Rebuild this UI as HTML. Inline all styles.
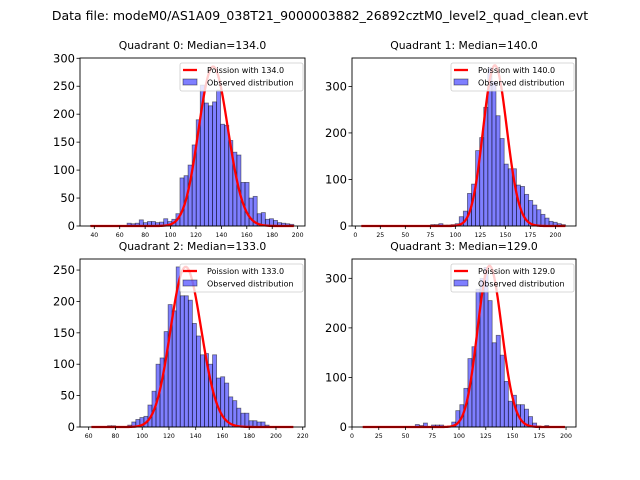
<!DOCTYPE html>
<html><head><meta charset="utf-8">
<style>
html,body{margin:0;padding:0;background:#fff;}
svg{display:block;font-family:"DejaVu Sans","Liberation Sans",sans-serif;}
</style></head>
<body>
<svg id="fig" width="640" height="480" viewBox="0 0 640 480">
<text x="320" y="20" text-anchor="middle" font-size="12.5">Data file: modeM0/AS1A09_038T21_9000003882_26892cztM0_level2_quad_clean.evt</text>
</svg>
<script>
// ---- data ----
const quadrantTitles = ["Quadrant 0: Median=134.0","Quadrant 1: Median=140.0","Quadrant 2: Median=133.0","Quadrant 3: Median=129.0"];
const binStart = [37, 6, 62, 10];
const binEnd = [197, 210, 213, 199];
const q0Counts = [1,0,0,0,0,0,0,0,1,5,4,5,11,6,8,8,6,7,13,8,12,22,86,90,109,145,190,252,220,215,222,243,182,180,153,132,127,78,78,50,53,22,24,12,13,10,6,5,4,3];
const q1Counts = [0,0,0,0,0,0,0,0,0,1,0,0,0,0,0,0,0,3,3,5,2,2,3,5,20,32,70,90,162,190,255,340,310,237,188,133,123,123,88,85,68,55,45,35,25,17,10,8,5,3];
const q2Counts = [0,0,0,0,2,2,1,0,0,3,8,12,15,17,35,57,100,110,152,195,185,255,209,209,202,165,145,115,117,100,115,78,80,70,48,42,30,22,22,10,10,8,8,3,0,0,0,0,0,0];
const q3Counts = [0,0,0,0,0,0,0,0,0,0,0,0,0,5,3,8,0,4,4,4,0,2,10,33,45,78,138,162,278,300,322,255,170,185,145,92,52,64,45,45,36,21,8,2,0,3,0,0,0,0];
const poissonMeans = [134, 140, 133, 129];
const poissonPeaks = [285, 345, 255, 325];
const xTicks = [[40,60,80,100,120,140,160,180,200],[0,25,50,75,100,125,150,175,200],[60,80,100,120,140,160,180,200,220],[0,25,50,75,100,125,150,175,200]];
const yTicks = [[0,50,100,150,200,250,300],[0,100,200,300],[0,50,100,150,200,250],[0,100,200,300]];
const counts = [q0Counts, q1Counts, q2Counts, q3Counts];

// ---- layout ----
const boxes = [
 {l:80,r:305,t:58,b:226,xmin:28.75,xmax:205.8,ymax:300.5},
 {l:352,r:576,t:58,b:226,xmin:-3.3,xmax:220.6,ymax:361},
 {l:80,r:305,t:259,b:427,xmin:53.5,xmax:221.7,ymax:267.6},
 {l:352,r:576,t:259,b:427,xmin:0,xmax:209.3,ymax:339}
];
const NS="http://www.w3.org/2000/svg";
const svg=document.getElementById('fig');
function mk(tag,attrs,parent){const e=document.createElementNS(NS,tag);for(const k in attrs)e.setAttribute(k,attrs[k]);(parent||svg).appendChild(e);return e;}
function lgamma(z){
  if(z<7){let p=1;while(z<7){p*=z;z+=1;}return lgamma(z)-Math.log(p);}
  return (z-0.5)*Math.log(z)-z+0.5*Math.log(2*Math.PI)+1/(12*z)-1/(360*z*z*z);
}
boxes.forEach((bx,q)=>{
  const g=mk('g',{});
  
  
  const X=v=>bx.l+(v-bx.xmin)/(bx.xmax-bx.xmin)*(bx.r-bx.l);
  const Y=v=>bx.b-v/bx.ymax*(bx.b-bx.t);
  const c=counts[q], n=c.length, w=(binEnd[q]-binStart[q])/n;
  c.forEach((v,i)=>{
    const x0=X(binStart[q]+i*w), x1=X(binStart[q]+(i+1)*w);
    const r=mk('rect',{x:x0,y:Y(v),width:x1-x0,height:bx.b-Y(v),fill:'rgba(0,0,255,0.5)',stroke:'rgba(0,0,0,0.5)','stroke-width':0.8},g);
    
    
  });
  const lam=poissonMeans[q];
  const pk=Math.exp(Math.floor(lam)*Math.log(lam)-lam-lgamma(Math.floor(lam)+1));
  let pts=[];
  for(let k=Math.ceil(binStart[q]);k<=Math.floor(binEnd[q]);k++){
    const p=Math.exp(k*Math.log(lam)-lam-lgamma(k+1));
    pts.push(X(k).toFixed(2)+','+Y(p/pk*poissonPeaks[q]).toFixed(2));
  }
  const pl=mk('polyline',{points:pts.join(' '),fill:'none',stroke:'#ff0000','stroke-width':2.3},g);
  
  
  const fr=mk('rect',{x:bx.l,y:bx.t,width:bx.r-bx.l,height:bx.b-bx.t,fill:'none',stroke:'#000','stroke-width':0.9},g);
  
  
  xTicks[q].forEach(t=>{
    mk('line',{x1:X(t),x2:X(t),y1:bx.b,y2:bx.b+3,stroke:'#000','stroke-width':0.8},g);
    const tx=mk('text',{x:X(t),y:bx.b+11,'font-size':6.2,'text-anchor':'middle'},g);
    tx.textContent=t;
    
    
  });
  yTicks[q].forEach(t=>{
    mk('line',{x1:bx.l-3.5,x2:bx.l,y1:Y(t),y2:Y(t),stroke:'#000','stroke-width':0.8},g);
    const tx=mk('text',{x:bx.l-5,y:Y(t)+4,'font-size':11.5,'text-anchor':'end'},g);
    tx.textContent=t;
    
    
  });
  const ti=mk('text',{x:(bx.l+bx.r)/2,y:bx.t-9,'font-size':10.8,'text-anchor':'middle'},g);
  ti.textContent=quadrantTitles[q];
  
  
  const lg=mk('g',{},g);
  
  
  const lx=bx.r-125, ly=bx.t+5;
  mk('rect',{x:lx,y:ly,width:123,height:28,rx:2,fill:'rgba(255,255,255,0.8)',stroke:'#ccc','stroke-width':0.8},lg);
  mk('line',{x1:lx+3,x2:lx+17,y1:ly+7,y2:ly+7,stroke:'#ff0000','stroke-width':2.3},lg);
  mk('rect',{x:lx+3,y:ly+16,width:14,height:6,fill:'rgba(0,0,255,0.5)',stroke:'rgba(0,0,0,0.5)','stroke-width':0.8},lg);
  const t1=mk('text',{x:lx+27,y:ly+10,'font-size':8},lg); t1.textContent='Poission with '+poissonMeans[q].toFixed(1);
  
  
  const t2=mk('text',{x:lx+27,y:ly+22.5,'font-size':8},lg); t2.textContent='Observed distribution';
  
  
});
</script>
</body></html>
